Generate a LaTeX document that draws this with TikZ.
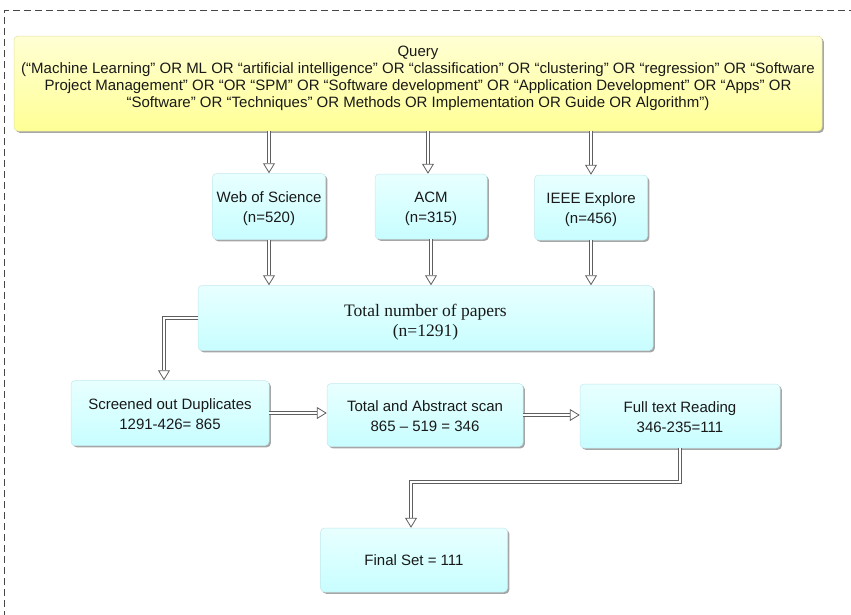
\documentclass[tikz,border=0pt]{standalone}
\usepackage{fontspec}
\setmainfont{Liberation Sans}
\newfontfamily\serifx{Liberation Serif}
\usetikzlibrary{arrows.meta,shadows}
\definecolor{arrowgray}{RGB}{95,95,95}
\definecolor{framegray}{RGB}{70,70,70}
\definecolor{cyTop}{RGB}{232,255,255}
\definecolor{cyMid}{RGB}{216,255,255}
\definecolor{cyBot}{RGB}{200,253,255}
\definecolor{cyEdge}{RGB}{195,232,236}
\definecolor{yeTop}{RGB}{255,255,212}
\definecolor{yeBot}{RGB}{255,255,150}
\definecolor{yeEdge}{RGB}{225,225,160}
\definecolor{txt}{RGB}{25,25,25}
\newcommand{\downtxt}[1]{\mbox{}\\[#1]}
\begin{document}
\begin{tikzpicture}[x=1pt,y=-1pt,
  shad/.style={drop shadow={shadow xshift=1.8pt, shadow yshift=-1.8pt, opacity=0.35, fill=black}},
  cbox/.style={draw=cyEdge, line width=0.5pt, rounded corners=4pt, top color=cyTop, bottom color=cyBot, middle color=cyMid, shad,
     inner sep=0pt, align=center, text=txt, font=\fontsize{15}{19.5}\selectfont},
  qbox/.style={draw=yeEdge, line width=0.5pt, rounded corners=4pt, top color=yeTop, bottom color=yeBot, shad,
     inner sep=0pt, align=center, text=txt, font=\fontsize{15}{17}\selectfont},
  dbl/.style={draw=arrowgray, double=white, double distance=2pt, line width=1pt,
     -{Triangle[open, length=10pt, width=12pt, line width=0.8pt]}}
]
\useasboundingbox (0,0) rectangle (851,614);
% dashed frame
\draw[framegray, line width=0.9pt, dash pattern=on 7pt off 4pt] (4.5,640) -- (4.5,10.5) -- (870,10.5);

\node[qbox, minimum width=808pt, minimum height=95pt] (query) at (418,83.5)
 {Query\\(“Machine Learning” OR ML OR “artificial intelligence” OR “classification” OR “clustering” OR “regression” OR “Software\\
 Project Management” OR “OR “SPM” OR “Software development” OR “Application Development” OR “Apps” OR\\
 “Software” OR “Techniques” OR Methods OR Implementation OR Guide OR Algorithm”)\\[-3pt]\mbox{}};

\node[cbox, minimum width=113pt, minimum height=66pt] (wos) at (269,206.5) {\downtxt{-4pt}Web of Science\\(n=520)};
\node[cbox, minimum width=112pt, minimum height=65pt] (acm) at (431,206.5) {\downtxt{-4pt}ACM\\(n=315)};
\node[cbox, minimum width=113pt, minimum height=65pt] (ieee) at (591,207.5) {\downtxt{-4pt}IEEE Explore\\(n=456)};

\node[cbox, minimum width=455pt, minimum height=65pt, font=\serifx\fontsize{17.5}{20}\selectfont] (total) at (425.5,318) {\downtxt{0pt}Total number of papers\\(n=1291)};

\node[cbox, minimum width=198pt, minimum height=65pt] (scr) at (170,413) {\downtxt{-6pt}Screened out Duplicates\\1291-426= 865};
\node[cbox, minimum width=196pt, minimum height=63pt] (tas) at (425,415) {\downtxt{-6pt}Total and Abstract scan\\865 – 519 = 346};
\node[cbox, minimum width=200pt, minimum height=64pt] (full) at (680,416) {\downtxt{-6pt}Full text Reading\\346-235=111};
\node[cbox, minimum width=187pt, minimum height=64pt] (final) at (414,560) {Final Set = 111};

% arrows
\coordinate (acmin) at ([xshift=-3pt]acm.north);
\draw[dbl] (query.south -| wos.north) -- (wos.north);
\draw[dbl] (query.south -| acmin) -- (acmin);
\draw[dbl] (query.south -| ieee.north) -- (ieee.north);
\draw[dbl] (wos.south) -- (wos.south |- total.north);
\draw[dbl] (acm.south) -- (acm.south |- total.north);
\draw[dbl] (ieee.south) -- (ieee.south |- total.north);
\coordinate (scrin) at ([xshift=-6pt]scr.north);
\draw[dbl] (total.west) -| (scrin);
\draw[dbl] (scr.east) -- (scr.east -| tas.west);
\draw[dbl] (tas.east) -- (tas.east -| full.west);
\coordinate (finin) at ([xshift=-3pt]final.north);
\coordinate (bend) at (0,482);
\draw[dbl] (full.south) -- (full.south |- bend) -| (finin);
\end{tikzpicture}
\end{document}
